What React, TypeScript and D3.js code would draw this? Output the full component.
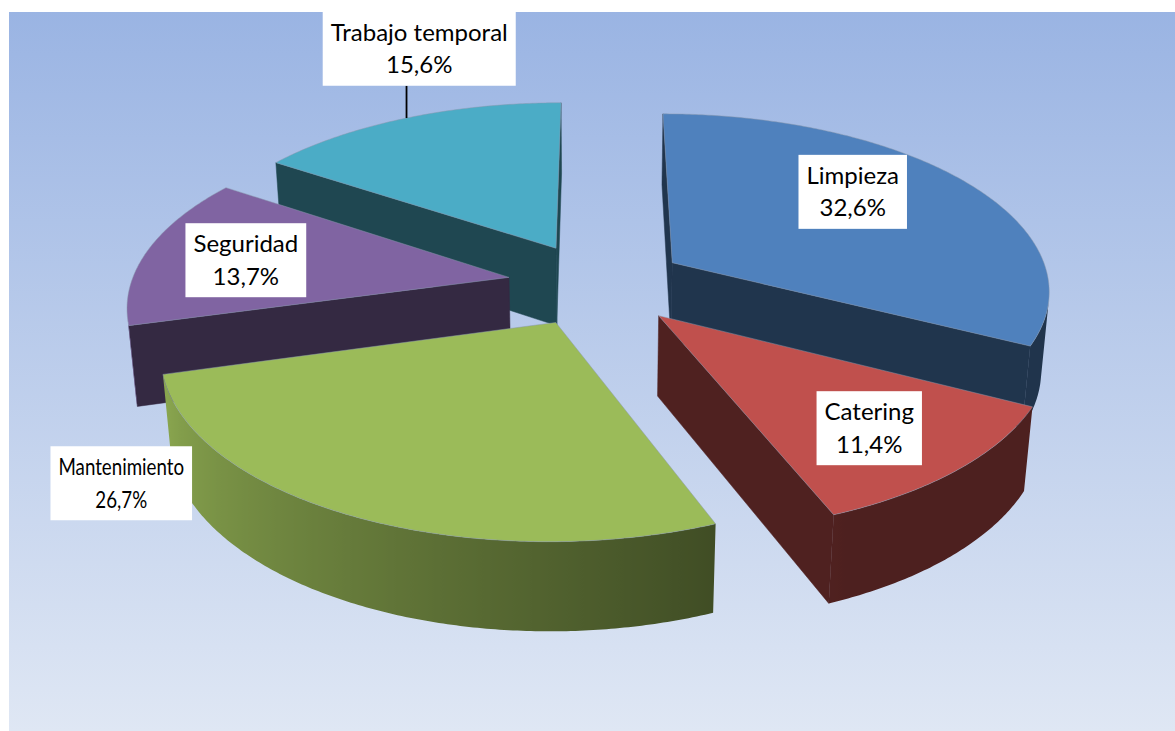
import * as d3 from "d3";

const categories = ["Limpieza", "Catering", "Mantenimiento", "Seguridad", "Trabajo temporal"];
const shares = [32.6, 11.4, 26.7, 13.7, 15.6];
const shareLabels = ["32,6%", "11,4%", "26,7%", "13,7%", "15,6%"];
const topColors = ["#4f81bd", "#c0504d", "#9bbb59", "#8064a2", "#4bacc6"];

// where each label sits, in pie space (degrees clockwise from 12 o'clock, radius 1 = rim)
const labelAngle = [50, 139, 232, 278, 342];
const labelRadius = [0.69, 0.74, 1.24, 0.72, 1.52];
const hasLeader = [false, false, false, false, true];
// the Mantenimiento label is drawn narrower in the original
const labelSqueeze = [1, 1, 0.78, 1, 1];

const W = 1175;
const H = 731;
const CX = 597;
const CY = 284;
const TILT = (27.7 * Math.PI) / 180;
const SIN = Math.sin(TILT);
const COS = Math.cos(TILT);
const DIST = 7 * COS;
const FOCAL = 2647 * COS;
const EXPLODE = 0.237;
const THICK = 0.24;
const CAM_V = -DIST * COS;
const FONT = "Lato, 'Noto Sans', sans-serif";
const FONT_SIZE = 24;

// perspective projection of a point (u right, v back, h up)
function project(u: number, v: number, h: number): [number, number] {
  const yc = v * SIN + h * COS;
  const zc = DIST + v * COS - h * SIN;
  return [CX + (FOCAL * u) / zc, CY - (FOCAL * yc) / zc];
}

function shade(color: string, k: number) {
  const c = d3.rgb(color);
  return d3.rgb(c.r * k, c.g * k, c.b * k).formatHex();
}

function wallShade(theta: number) {
  const deg = (theta * 180) / Math.PI;
  return Math.max(0.4, Math.min(0.88, 0.42 + (0.46 * (deg - 160)) / 90));
}

const poly = (pts: [number, number][]) =>
  "M" + pts.map((p) => p[0].toFixed(2) + "," + p[1].toFixed(2)).join("L") + "Z";

let measureCtx: CanvasRenderingContext2D | null = null;
function textWidth(s: string) {
  if (!measureCtx) {
    measureCtx = document.createElement("canvas").getContext("2d");
  }
  if (!measureCtx) return s.length * FONT_SIZE * 0.5;
  measureCtx.font = FONT_SIZE + "px " + FONT;
  return measureCtx.measureText(s).width;
}

export default function App() {
  const arcs = d3.pie<number>().sort(null).value((d) => d)(shares);

  const slices = arcs.map((a, i) => {
    const a0 = a.startAngle;
    const a1 = a.endAngle;
    const mid = (a0 + a1) / 2;
    const ou = EXPLODE * Math.sin(mid);
    const ov = EXPLODE * Math.cos(mid);
    const pt = (t: number, r: number, h: number) =>
      project(ou + r * Math.sin(t), ov + r * Math.cos(t), h);
    const color = topColors[i];

    const n = Math.max(8, Math.ceil((a1 - a0) / 0.01));
    const angles = d3.range(n + 1).map((k) => a0 + ((a1 - a0) * k) / n);

    const top = poly([pt(0, 0, 0), ...angles.map((t) => pt(t, 1, 0))]);

    // outer wall, only the part facing the camera
    const visible: number[] = [];
    for (let k = 0; k < n; k++) {
      const tm = (angles[k] + angles[k + 1]) / 2;
      const pu = ou + Math.sin(tm);
      const pv = ov + Math.cos(tm);
      const dot = Math.sin(tm) * (0 - pu) + Math.cos(tm) * (CAM_V - pv);
      if (dot > 0) visible.push(k);
    }
    let wall: any = null;
    if (visible.length) {
      const ts = d3.range(visible[0], visible[visible.length - 1] + 2).map((k) => angles[k]);
      const upper = ts.map((t) => pt(t, 1, 0));
      const lower = ts.map((t) => pt(t, 1, -THICK)).reverse();
      const xs = upper.map((p) => p[0]);
      const x1 = d3.min(xs) as number;
      const x2 = d3.max(xs) as number;
      const stops = ts
        .map((t, k) => ({
          off: x2 > x1 ? (xs[k] - x1) / (x2 - x1) : 0,
          col: shade(color, wallShade(t)),
        }))
        .sort((p, q) => p.off - q.off);
      wall = { d: poly([...upper, ...lower]), x1, x2, stops };
    }

    // flat radial faces
    const faces: string[] = [];
    const radial = (t: number, nu: number, nv: number) => {
      const pu = ou + 0.5 * Math.sin(t);
      const pv = ov + 0.5 * Math.cos(t);
      const dot = nu * (0 - pu) + nv * (CAM_V - pv);
      if (dot > 0) {
        faces.push(poly([pt(0, 0, 0), pt(t, 1, 0), pt(t, 1, -THICK), pt(0, 0, -THICK)]));
      }
    };
    radial(a0, -Math.cos(a0), Math.sin(a0));
    radial(a1, Math.cos(a1), -Math.sin(a1));

    const cv = ov + 0.5 * Math.cos(mid);
    const depth = DIST + cv * COS;

    const la = (labelAngle[i] * Math.PI) / 180;
    const label = pt(la, labelRadius[i], 0);
    const rim = pt(mid, 1, 0);

    return { i, color, top, wall, faces, depth, label, rim };
  });

  const order = slices.slice().sort((p, q) => q.depth - p.depth);

  return (
    <svg
      width={W}
      height={H}
      style={{ position: "absolute", left: 0, top: 0 }}
      fontFamily={FONT}
    >
      <defs>
        <linearGradient id="bg" x1="0" y1="0" x2="0" y2="1">
          <stop offset="0" stopColor="#9ab4e3" />
          <stop offset="1" stopColor="#dfe7f4" />
        </linearGradient>
        {slices.map((s) =>
          s.wall ? (
            <linearGradient
              key={"g" + s.i}
              id={"wall" + s.i}
              gradientUnits="userSpaceOnUse"
              x1={s.wall.x1}
              x2={s.wall.x2}
              y1={0}
              y2={0}
            >
              {s.wall.stops.map((st: any, k: number) => (
                <stop key={k} offset={st.off} stopColor={st.col} />
              ))}
            </linearGradient>
          ) : null
        )}
      </defs>
      <rect x={9} y={12} width={W - 9} height={H - 12} fill="url(#bg)" />

      {order.map((s) => (
        <g key={s.i}>
          {s.faces.map((d, k) => (
            <path key={k} d={d} fill={shade(s.color, 0.41)} stroke={shade(s.color, 0.41)} strokeWidth={0.5} />
          ))}
          {s.wall ? (
            <path d={s.wall.d} fill={`url(#wall${s.i})`} stroke="none" />
          ) : null}
          <path d={s.top} fill={s.color} stroke="#8a98ad" strokeOpacity={0.6} strokeWidth={0.8} />
        </g>
      ))}

      {slices.map((s) => {
        const sq = labelSqueeze[s.i];
        const w1 = textWidth(categories[s.i]);
        const w2 = textWidth(shareLabels[s.i]);
        const bw = Math.max(w1, w2) * sq + 16;
        const bh = 74;
        const [lx, ly] = s.label;
        return (
          <g key={"l" + s.i}>
            {hasLeader[s.i] ? (
              <line
                x1={s.rim[0]}
                y1={s.rim[1]}
                x2={s.rim[0]}
                y2={ly + bh / 2}
                stroke="#000"
                strokeWidth={1.8}
              />
            ) : null}
            <rect x={lx - bw / 2} y={ly - bh / 2} width={bw} height={bh} fill="#fff" />
            <g transform={`translate(${lx},${ly}) scale(${sq},1)`}>
              <text x={0} y={-8} textAnchor="middle" fontSize={FONT_SIZE} fill="#000">
                {categories[s.i]}
              </text>
              <text x={0} y={24.5} textAnchor="middle" fontSize={FONT_SIZE} fill="#000">
                {shareLabels[s.i]}
              </text>
            </g>
          </g>
        );
      })}
    </svg>
  );
}
